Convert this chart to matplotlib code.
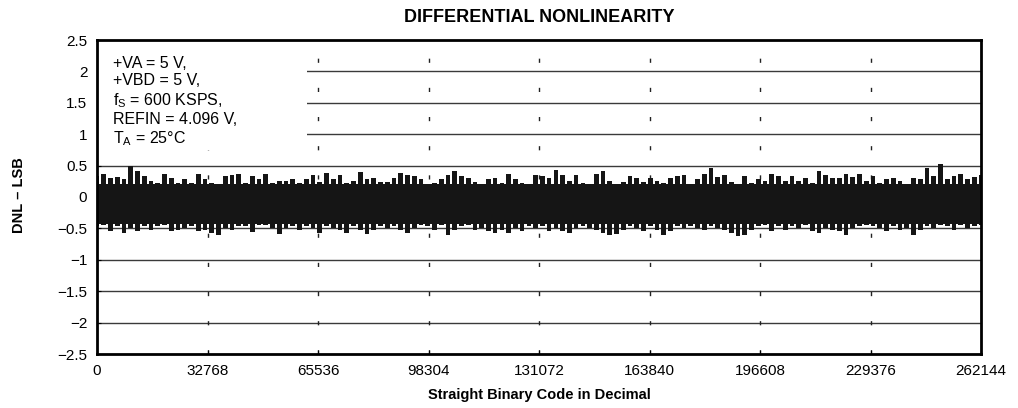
import numpy as np
import matplotlib.pyplot as plt
from matplotlib.patches import Rectangle

plt.rcParams['font.family'] = ['Liberation Sans', 'DejaVu Sans']
plt.rcParams['mathtext.fontset'] = 'custom'
plt.rcParams['mathtext.rm'] = 'Liberation Sans'

# axis ticks
x_ticks = [0, 32768, 65536, 98304, 131072, 163840, 196608, 229376, 262144]
y_ticks = [-2.5, -2, -1.5, -1, -0.5, 0, 0.5, 1, 1.5, 2, 2.5]
y_labels = ['\u22122.5', '\u22122', '\u22121.5', '\u22121', '\u22120.5', '0',
            '0.5', '1', '1.5', '2', '2.5']

# dense part of the DNL band (LSB), where the trace is solid black
core_top = 0.21
core_bottom = -0.43

# DNL peaks (LSB), evenly spread over the code range
dnl_upper = [
    0.33, 0.36, 0.30, 0.32, 0.28, 0.49, 0.41, 0.33, 0.25, 0.23, 0.36, 0.30, 0.23, 0.28, 0.23, 0.36, 0.28, 0.23, 0.20, 0.33, 0.35, 0.36,
    0.23, 0.33, 0.29, 0.37, 0.23, 0.26, 0.25, 0.29, 0.23, 0.29, 0.35, 0.24, 0.38, 0.29, 0.35, 0.23, 0.25, 0.40, 0.29, 0.30, 0.24, 0.24,
    0.30, 0.38, 0.35, 0.33, 0.29, 0.20, 0.23, 0.29, 0.35, 0.41, 0.33, 0.30, 0.24, 0.20, 0.28, 0.30, 0.23, 0.36, 0.29, 0.22, 0.18, 0.35,
    0.33, 0.30, 0.43, 0.35, 0.25, 0.35, 0.22, 0.21, 0.37, 0.41, 0.25, 0.20, 0.24, 0.34, 0.30, 0.24, 0.30, 0.26, 0.23, 0.30, 0.33, 0.35,
    0.20, 0.29, 0.37, 0.46, 0.32, 0.35, 0.24, 0.21, 0.34, 0.23, 0.29, 0.26, 0.36, 0.33, 0.25, 0.33, 0.25, 0.30, 0.23, 0.41, 0.35, 0.30,
    0.30, 0.36, 0.32, 0.36, 0.25, 0.33, 0.22, 0.28, 0.30, 0.25, 0.21, 0.30, 0.29, 0.46, 0.33, 0.52, 0.29, 0.33, 0.36, 0.28, 0.32, 0.35,
]
dnl_lower = [
    -0.46, -0.44, -0.54, -0.46, -0.57, -0.49, -0.54, -0.46, -0.52, -0.46, -0.44, -0.54, -0.52, -0.49, -0.46, -0.54, -0.52, -0.57, -0.60, -0.49, -0.52, -0.46,
    -0.46, -0.55, -0.44, -0.45, -0.50, -0.59, -0.50, -0.46, -0.52, -0.46, -0.49, -0.57, -0.46, -0.50, -0.52, -0.57, -0.46, -0.52, -0.59, -0.52, -0.46, -0.49,
    -0.46, -0.52, -0.57, -0.49, -0.44, -0.46, -0.52, -0.44, -0.60, -0.52, -0.46, -0.44, -0.52, -0.49, -0.54, -0.57, -0.52, -0.57, -0.49, -0.54, -0.46, -0.49,
    -0.46, -0.54, -0.49, -0.54, -0.57, -0.49, -0.46, -0.49, -0.52, -0.57, -0.60, -0.59, -0.52, -0.46, -0.49, -0.54, -0.46, -0.52, -0.60, -0.54, -0.46, -0.49,
    -0.46, -0.49, -0.52, -0.46, -0.49, -0.52, -0.57, -0.62, -0.60, -0.52, -0.46, -0.44, -0.54, -0.46, -0.52, -0.46, -0.49, -0.44, -0.54, -0.57, -0.49, -0.52,
    -0.54, -0.60, -0.49, -0.46, -0.44, -0.46, -0.49, -0.54, -0.46, -0.52, -0.49, -0.60, -0.52, -0.46, -0.49, -0.44, -0.46, -0.52, -0.44, -0.49, -0.46, -0.44,
]

cond_text = ('+VA = 5 V,\n+VBD = 5 V,\nf$_\\mathregular{S}$ = 600 KSPS,\n'
             'REFIN = 4.096 V,\nT$_\\mathregular{A}$ = 25\u00b0C')

fig = plt.figure(figsize=(10.18, 4.08), dpi=100)
ax = fig.add_axes([97/1018, 1-354/408, 884/1018, 314/408])

codes = np.linspace(x_ticks[0], x_ticks[-1], len(dnl_upper))
bin_w = codes[1] - codes[0]
ax.fill_between([x_ticks[0], x_ticks[-1]], core_bottom, core_top,
                color='#151515', lw=0, zorder=3)
ax.bar(codes, np.subtract(dnl_upper, dnl_lower), bottom=dnl_lower,
       width=0.7 * bin_w, color='#151515', lw=0, zorder=3)

# grid: solid horizontals, sparse dashed verticals
for y in y_ticks[1:-1]:
    ax.axhline(y, color='#3a3a3a', lw=1.0, zorder=1)
for x in x_ticks[1:-1]:
    ax.axvline(x, color='#222222', lw=1.0, ls=(0, (3, 18)), zorder=1)

# white box behind the test conditions
ax.add_patch(Rectangle((0, 0.65), 0.2376, 0.32, transform=ax.transAxes,
                       facecolor='white', edgecolor='none', zorder=2))
ax.text(0.018, 0.948, cond_text, transform=ax.transAxes, va='top', ha='left',
        fontsize=11.5, linespacing=1.18, zorder=4)

ax.set_xlim(x_ticks[0], x_ticks[-1])
ax.set_ylim(y_ticks[0], y_ticks[-1])
ax.set_xticks(x_ticks)
ax.set_xticklabels([str(v) for v in x_ticks])
ax.set_yticks(y_ticks)
ax.set_yticklabels(y_labels)
ax.tick_params(direction='in', length=3, labelsize=11, pad=7)
for s in ax.spines.values():
    s.set_linewidth(2)
    s.set_zorder(5)

fig.text(539/1018, 1-18/408, 'DIFFERENTIAL NONLINEARITY', ha='center',
         va='center', fontsize=13, weight='bold')
fig.text(539/1018, 1-395/408, 'Straight Binary Code in Decimal', ha='center',
         va='center', fontsize=10.5, weight='bold')
fig.text(19/1018, 1-195/408, 'DNL \u2013 LSB', ha='center', va='center',
         rotation=90, fontsize=10.5, weight='bold')

fig.savefig('out.png', dpi=100)
